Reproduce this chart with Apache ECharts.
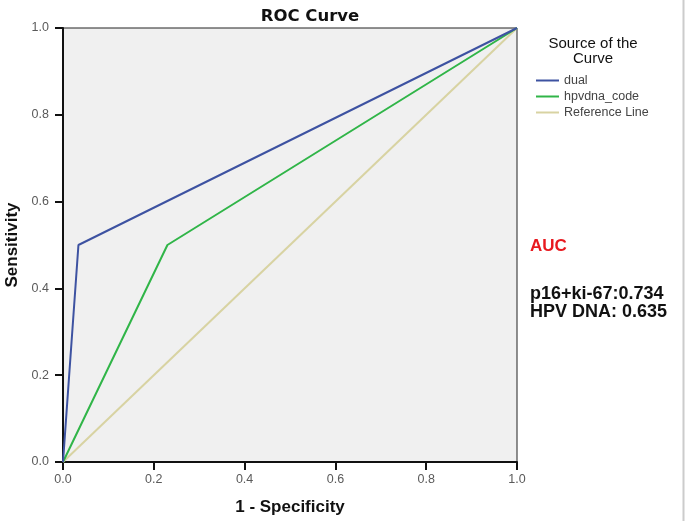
<!DOCTYPE html>
<html>
<head>
<meta charset="utf-8">
<script src="https://cdn.jsdelivr.net/npm/echarts@6/dist/echarts.min.js"></script>
<style>html,body{margin:0;padding:0;background:#fff;}#c{width:685px;height:521px;}</style>
</head>
<body>
<div id="c"></div>
<script>
var seriesNames = ['dual', 'hpvdna_code', 'Reference Line'];
var dualPoints = [[0, 0], [0.034, 0.5], [1, 1]];
var hpvPoints = [[0, 0], [0.23, 0.5], [1, 1]];
var refPoints = [[0, 0], [1, 1]];
var tickValues = [0, 0.2, 0.4, 0.6, 0.8, 1.0];
var aucLines = ['p16+ki-67:0.734', 'HPV DNA: 0.635'];

var chart = echarts.init(document.getElementById('c'));
function axisCommon(margin) {
  return {
    type: 'value', min: 0, max: 1, interval: 0.2,
    axisLine: {show: true, lineStyle: {color: '#111', width: 2}},
    axisTick: {show: true, inside: false, length: 8, lineStyle: {color: '#111', width: 2}},
    axisLabel: {color: '#5a5a5a', fontSize: 12.5, margin: margin, fontFamily: 'Liberation Sans, Arial', formatter: function (v) { return v.toFixed(1); }},
    splitLine: {show: false},
    nameLocation: 'middle',
    nameTextStyle: {fontWeight: 'bold', fontSize: 17, color: '#111', fontFamily: 'Liberation Sans, Arial'}
  };
}
chart.setOption({
  animation: false,
  backgroundColor: '#fff',
  title: {
    text: 'ROC Curve', left: 305, top: 3, textAlign: 'center',
    textStyle: {fontSize: 16.5, fontWeight: 'bold', color: '#111', fontFamily: 'DejaVu Sans'}
  },
  grid: {left: 63, right: 168, top: 28, bottom: 59, containLabel: false, outerBoundsMode: 'none', show: true, backgroundColor: '#f0f0f0', borderColor: '#222', borderWidth: 1},
  xAxis: Object.assign(axisCommon(11), {name: '1 - Specificity', nameGap: 37}),
  yAxis: Object.assign(axisCommon(14), {name: 'Sensitivity', nameGap: 40}),
  legend: {
    orient: 'vertical', left: 531, top: 69, itemWidth: 23, itemHeight: 2, itemGap: 3, icon: 'rect', itemTextGap: 4,
    data: seriesNames,
    textStyle: {fontSize: 12.5, color: '#444', fontFamily: 'Liberation Sans, Arial'}
  },
  graphic: [
    {type: 'text', x: 593, y: 36, style: {text: 'Source of the\nCurve', align: 'center', lineHeight: 15, fill: '#111', font: '15px Liberation Sans, Arial'}},
    {type: 'text', x: 530, y: 238, style: {text: 'AUC', fill: '#e8191f', font: 'bold 17px Liberation Sans, Arial'}},
    {type: 'text', x: 530, y: 285, style: {text: aucLines.join('\n'), fill: '#111', font: 'bold 18px Liberation Sans, Arial', lineHeight: 18}},
    {type: 'line', shape: {x1: 683.5, y1: 0, x2: 683.5, y2: 521}, style: {stroke: '#ccc', lineWidth: 2}}
  ],
  series: [
    {name: seriesNames[0], type: 'line', data: dualPoints, showSymbol: false, symbol: 'none', lineStyle: {color: '#3d52a1', width: 2}, itemStyle: {color: '#3d52a1'}, z: 4},
    {name: seriesNames[1], type: 'line', data: hpvPoints, showSymbol: false, symbol: 'none', lineStyle: {color: '#30b548', width: 2}, itemStyle: {color: '#30b548'}, z: 3},
    {name: seriesNames[2], type: 'line', data: refPoints, showSymbol: false, symbol: 'none', lineStyle: {color: '#d8d3a2', width: 2}, itemStyle: {color: '#d8d3a2'}, z: 2}
  ]
});
</script>
</body>
</html>
